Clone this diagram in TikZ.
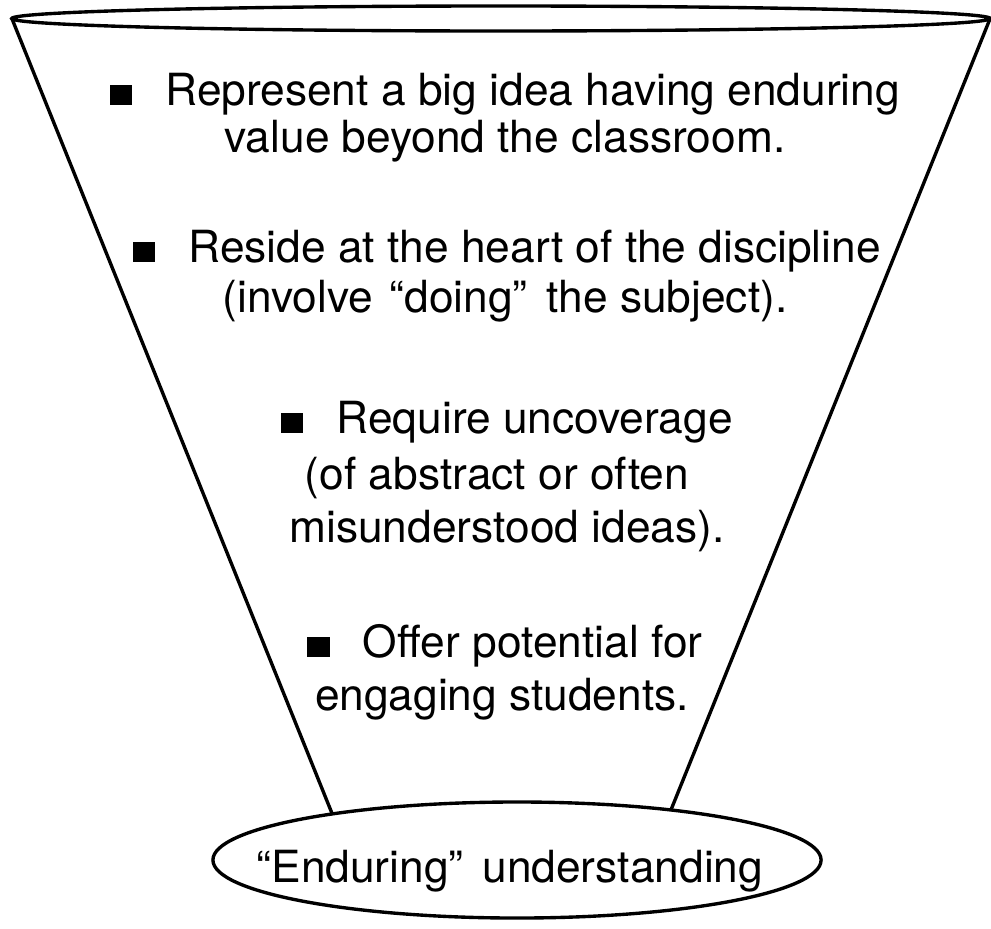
\documentclass[tikz,border=0pt]{standalone}
\usepackage{fontspec}
\setmainfont{TeX Gyre Heros}
\usetikzlibrary{shapes.geometric}

\tikzset{
  funnel/.style={draw, line width=2.4pt},
  mouth/.style={ellipse, draw, line width=2.4pt, inner sep=0pt, outer sep=0pt},
  point/.style={anchor=base, font=\fontsize{31.5}{38}\selectfont},
}
\newcommand{\sqbullet}{\rule{0.5em}{0.45em}\hspace{0.75em}}

\begin{document}
\begin{tikzpicture}[x=0.025cm, y=-0.025cm]
\useasboundingbox (0,0) rectangle (991,928);

% top rim and narrow end
\node [mouth, minimum width=24.45cm, minimum height=0.625cm] (rim) at (501,18.5) {};
\node [mouth, minimum width=15.2cm, minimum height=2.9cm] (base) at (517,860) {};

\draw [funnel] (rim.west) -- (base.166);
\draw [funnel] (rim.east) -- (base.18);

\node [point] (idea1) at (505,105) {\sqbullet Represent a big idea having enduring};
\node [point] (idea2) at (505,152) {value beyond the classroom.};

\node [point] (heart1) at (507,262) {\sqbullet Reside at the heart of the discipline};
\node [point] (heart2) at (505,312) {(involve \hspace{0.1em}“doing”\hspace{0.15em} the subject).};

\node [point] (uncover1) at (507,433) {\sqbullet Require uncoverage};
\node [point] (uncover2) at (497,489) {(of abstract or often};
\node [point] (uncover3) at (507,542) {misunderstood ideas).};

\node [point] (engage1) at (505,657) {\sqbullet Offer potential for};
\node [point] (engage2) at (502,710) {engaging students.};

\node [point] (enduring) at (510,882) {“Enduring”\hspace{0.15em} understanding};
\end{tikzpicture}
\end{document}
